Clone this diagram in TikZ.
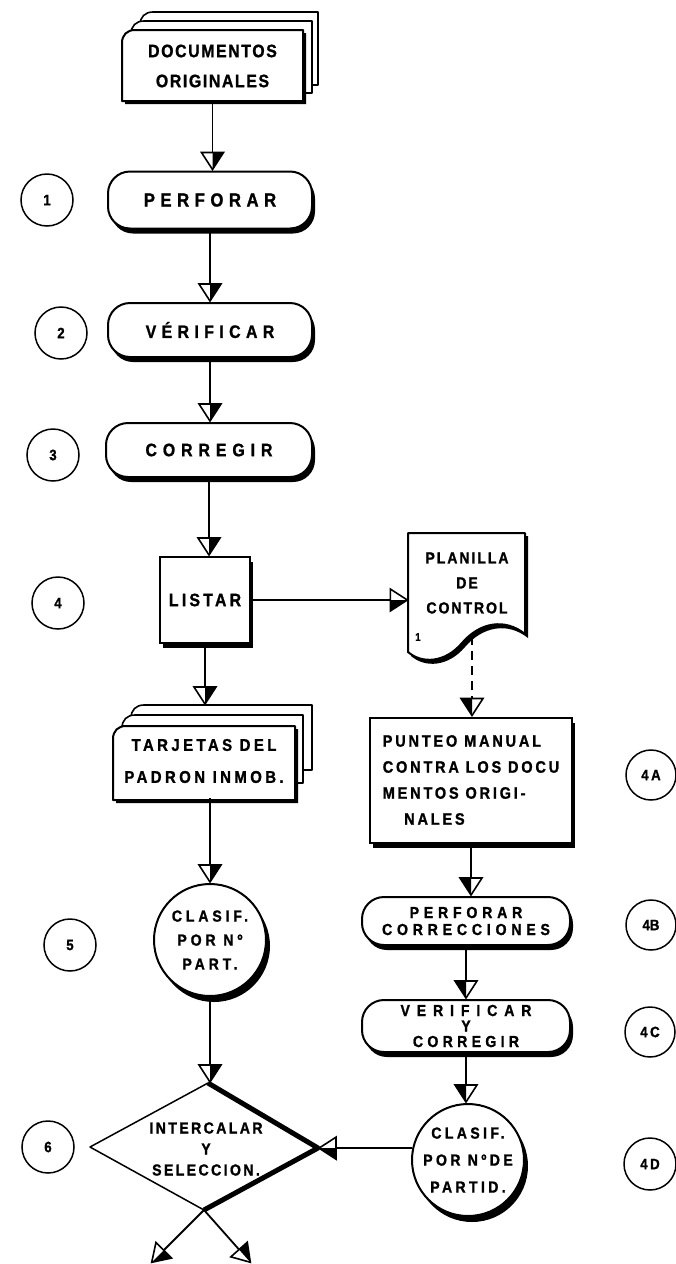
\documentclass[tikz,border=0pt]{standalone}
\usepackage{fontspec}
\setmainfont{Liberation Sans}[FakeStretch=0.88, BoldFeatures={FakeBold=1.2}]
\usetikzlibrary{shadows,calc,arrows.meta}

% open triangular head with one half blacked in (#1 = side, +1 or -1)
\newcommand\halftri[1]{%
  \pgfsetdash{}{0pt}%
  \pgfsetlinewidth{1.6pt}%
  \pgfsetmiterjoin
  \pgfpathmoveto{\pgfqpoint{-1pt}{0pt}}%
  \pgfpathlineto{\pgfqpoint{-18pt}{11pt}}%
  \pgfpathlineto{\pgfqpoint{-18pt}{-11pt}}%
  \pgfpathclose
  \pgfsetfillcolor{white}%
  \pgfusepathqfillstroke
  \pgfpathmoveto{\pgfqpoint{-1pt}{0pt}}%
  \pgfpathlineto{\pgfpoint{-18pt}{#1*11pt}}%
  \pgfpathlineto{\pgfqpoint{-18pt}{0pt}}%
  \pgfpathclose
  \pgfsetfillcolor{black}%
  \pgfusepathqfill
}
\pgfdeclarearrow{
  name = HalfR,
  setup code = {
    \pgfarrowssettipend{0pt}
    \pgfarrowssetlineend{-16pt}
    \pgfarrowssetbackend{-19pt}
    \pgfarrowssetvisualbackend{-19pt}
    \pgfarrowsupperhullpoint{0pt}{0pt}
    \pgfarrowsupperhullpoint{-19pt}{12pt}
  },
  drawing code = {\halftri{1}}
}
\pgfdeclarearrow{
  name = HalfL,
  setup code = {
    \pgfarrowssettipend{0pt}
    \pgfarrowssetlineend{-16pt}
    \pgfarrowssetbackend{-19pt}
    \pgfarrowssetvisualbackend{-19pt}
    \pgfarrowsupperhullpoint{0pt}{0pt}
    \pgfarrowsupperhullpoint{-19pt}{12pt}
  },
  drawing code = {\halftri{-1}}
}

% bold lettering with size, line skip and tracking
\newcommand\lsz[3]{\bfseries\fontsize{#1}{#2}\selectfont\addfontfeature{LetterSpace=#3}}
% card / document sheet with a cut top-left corner: x0, top, x1, bottom
\newcommand\cardsheet[4]{(#1,#4) -- (#1,#2+13) .. controls (#1,#2+5) and (#1+5,#2) .. (#1+13,#2) -- (#3,#2) -- (#3,#4) -- cycle}

\tikzset{
  txt/.style={inner sep=0, align=center},
  flow/.style={line width=1.8},
  term/.style={txt, draw, fill=white, line width=2, rounded corners=22,
    general shadow={fill=black, shadow xshift=3pt, shadow yshift=-5pt}},
  procbox/.style={txt, draw, fill=white, line width=2,
    general shadow={fill=black, shadow xshift=3pt, shadow yshift=-5pt}},
  sortdisc/.style={txt, circle, draw, fill=white, line width=2, minimum size=112,
    general shadow={fill=black, shadow xshift=4pt, shadow yshift=-6pt}},
  stepno/.style={circle, draw, line width=1.5, inner sep=0, minimum size=52,
    font=\lsz{15}{15}{0}},
  sheet/.style={draw, fill=white, line width=2, line join=round},
}

\begin{document}
\begin{tikzpicture}[x=1pt,y=-1pt]
\useasboundingbox (0,0) rectangle (676,1264);
\fill[white] (0,0) rectangle (676,1264);

% ---- original documents (stack of sheets)
\draw[sheet, line width=1.6] \cardsheet{140}{12}{318}{85};
\draw[sheet, line width=1.6] \cardsheet{131}{21}{312}{93};
\fill \cardsheet{125}{33}{306}{104};
\draw[sheet] \cardsheet{122}{30}{303}{101};
\node[txt, minimum width=181, minimum height=71, font=\lsz{18}{30}{9}] (docs) at (212.5,66) {DOCUMENTOS\\ORIGINALES};

% ---- main column
\node[term, minimum width=204, minimum height=57, font=\lsz{19}{20}{29}] (perf) at (210,200) {PERFORAR};
\node[term, minimum width=204, minimum height=54, font=\lsz{18}{20}{30}] (ver) at (210,330) {VÉRIFICAR};
\node[term, minimum width=206, minimum height=54, font=\lsz{18}{20}{33}] (corr) at (209,450) {CORREGIR};
\node[procbox, minimum width=90, minimum height=86, font=\lsz{18}{20}{18}] (list) at (205,600) {LISTAR};

% ---- cards of the property register (stack of sheets)
\draw[sheet, line width=1.6] \cardsheet{131}{705}{312}{770};
\draw[sheet, line width=1.6] \cardsheet{122}{715}{303}{783};
\fill \cardsheet{116}{729}{298}{803};
\draw[sheet] \cardsheet{113}{726}{295}{800};
\node[txt, minimum width=182, minimum height=74, font=\lsz{17}{32}{20}] (tarj) at (204,761) {TARJETAS DEL\\PADRON INMOB.};
\coordinate (tarjtop) at (205,705);

\node[sortdisc, font=\lsz{16}{24}{24}] (clas1) at (210,940) {CLASIF.\\POR Nº\\PART.};

% ---- merge / select decision
\coordinate (dleft) at (90,1147);
\coordinate (dtop) at (208,1083);
\coordinate (dright) at (318,1148);
\coordinate (dbot) at (204,1210);
\draw[line width=1.5, fill=white, line join=round] (dleft) -- (dtop) -- (dright) -- (dbot) -- cycle;
\draw[line width=5, line join=round] (dtop) -- (dright) -- (dbot);
\node[txt, font=\lsz{16}{21}{15}] (dia) at (206,1149) {INTERCALAR\\Y\\SELECCION.};
\coordinate (outL) at (151,1263);
\coordinate (outR) at (251,1263);

% ---- control listing (document sheet)
\fill (411,536) -- (528,536) -- (528,638) .. controls (508,622) and (483,626) .. (465,647) .. controls (448,667) and (425,668) .. (411,656) -- cycle;
\draw[sheet] (408,533) -- (525,533) -- (525,634) .. controls (505,618) and (480,622) .. (462,643) .. controls (445,663) and (422,664) .. (408,652) -- cycle;
\node[txt, minimum width=117, minimum height=100, font=\lsz{16}{25}{12}] (plan) at (467,583) {PLANILLA\\DE\\CONTROL};
\node[txt, font=\lsz{11}{11}{0}] (plnum) at (418,637) {1};
\coordinate (planb) at (472,636);

% ---- correction column
\node[procbox, minimum width=202, minimum height=125, align=left, font=\lsz{16.5}{26}{17}] (punt) at (471,780)
  {PUNTEO MANUAL\\CONTRA LOS DOCU\\MENTOS ORIGI-\\\hspace*{1.3em}NALES};
\node[term, minimum width=208, minimum height=48, font=\lsz{16}{17}{30}] (perfc) at (466,921) {PERFORAR\\CORRECCIONES};
\node[term, minimum width=208, minimum height=52, font=\lsz{16}{15.5}{27}] (vyc) at (466,1026)
  {{\addfontfeature{LetterSpace=43}VERIFICAR}\\Y\\CORREGIR};
\node[sortdisc, font=\lsz{16}{27}{21}] (clas2) at (468,1160) {CLASIF.\\POR NºDE\\PARTID.};

% ---- step numbers
\node[stepno] (n1) at (47,200) {1};
\node[stepno] (n2) at (61,333) {2};
\node[stepno] (n3) at (53,455) {3};
\node[stepno] (n4) at (58,603) {4};
\node[stepno] (n5) at (70,945) {5};
\node[stepno] (n6) at (48,1147) {6};
\node[stepno, minimum size=50] (n4a) at (651,775) {4\,A};
\node[stepno, minimum size=50] (n4b) at (651,925) {4B};
\node[stepno, minimum size=50] (n4c) at (650,1032) {4\,C};
\node[stepno, minimum size=52] (n4d) at (650,1164) {4\,D};

% ---- connectors
\draw[flow, -{HalfR}] (docs.south) -- (docs.south |- perf.north);
\draw[flow, -{HalfR}] (perf.south) -- (perf.south |- ver.north);
\draw[flow, -{HalfR}] (ver.south) -- (ver.south |- corr.north);
\draw[flow, -{HalfR}] (corr.south) -- (corr.south |- list.north);
\draw[flow, -{HalfR}] (list.south) -- (list.south |- tarjtop);
\draw[flow, -{HalfL}] (list.east) -- (list.east -| plan.west);
\draw[flow, -{HalfR}] (clas1.north |- tarj.south) -- (clas1.north);
\draw[flow, -{HalfR}] (clas1.south) -- (clas1.south |- dtop);
\draw[flow, dashed, dash pattern=on 9pt off 6pt, -{HalfL}] (planb) -- (planb |- punt.north);
\draw[flow, -{HalfL}] (punt.south) -- (punt.south |- perfc.north);
\draw[flow, -{HalfL}] (perfc.south) -- (perfc.south |- vyc.north);
\draw[flow, -{HalfL}] (vyc.south) -- (vyc.south |- clas2.north);
\draw[flow, -{HalfR}] (clas2.168) -- (clas2.168 -| dright);
\draw[flow, -{HalfR}] (dbot) -- (outL);
\draw[flow, -{HalfR}] (dbot) -- (outR);
\end{tikzpicture}
\end{document}
